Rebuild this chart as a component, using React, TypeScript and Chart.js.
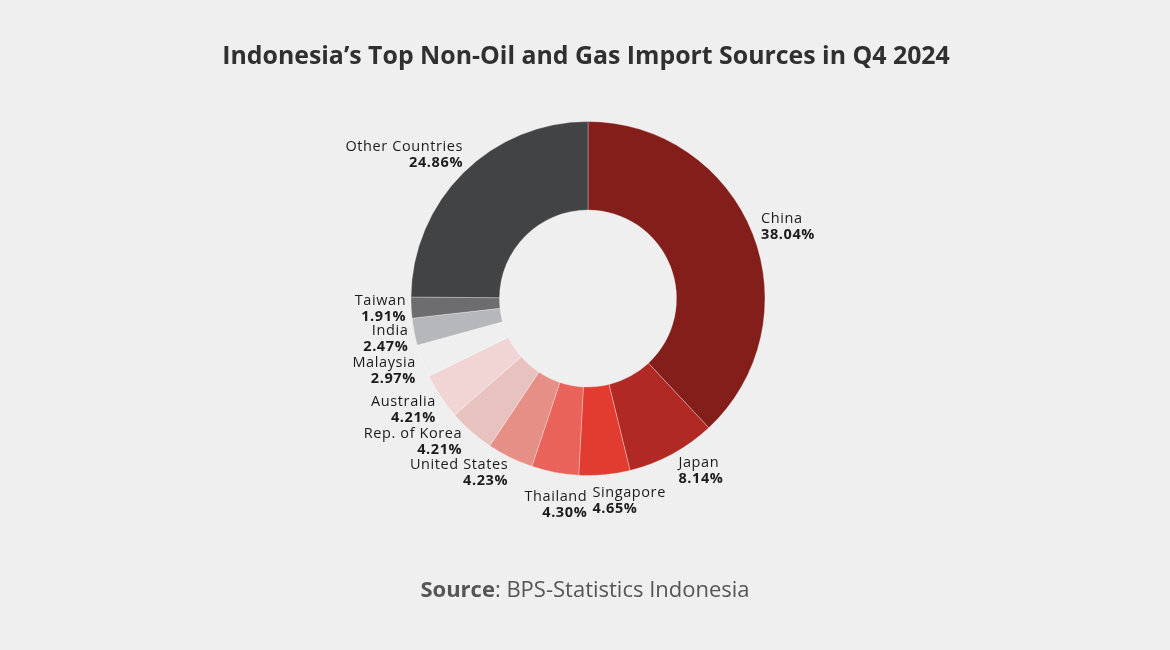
import React, { useEffect, useRef } from 'react';
import { Chart, registerables } from 'chart.js';

Chart.register(...registerables);

const TITLE = 'Indonesia’s Top Non-Oil and Gas Import Sources in Q4 2024';
const SOURCE_BOLD = 'Source';
const SOURCE_REST = ': BPS-Statistics Indonesia';

const countries = [
  'China',
  'Japan',
  'Singapore',
  'Thailand',
  'United States',
  'Rep. of Korea',
  'Australia',
  'Malaysia',
  'India',
  'Taiwan',
  'Other Countries',
];
const shares = [38.04, 8.14, 4.65, 4.3, 4.23, 4.21, 4.21, 2.97, 2.47, 1.91, 24.86];
const shareLabels = ['38.04%', '8.14%', '4.65%', '4.30%', '4.23%', '4.21%', '4.21%', '2.97%', '2.47%', '1.91%', '24.86%'];

const BG = '#efefef';
const sliceColors = [
  '#841e1b',
  '#b02925',
  '#e23b30',
  '#ea635a',
  '#e58f86',
  '#e8c2bf',
  '#f1d5d5',
  '#efefef',
  '#b5b7ba',
  '#6d6d70',
  '#424345',
];

// small per-label nudges (px) for readability, mirroring the reference layout
const labelNudge: Record<string, [number, number]> = {
  China: [0, 0],
  Japan: [2, 0],
  Singapore: [-13, 7],
  Thailand: [34, 14],
  'United States': [2, -2],
  'Rep. of Korea': [-3, -4],
  Australia: [3, 3],
  Malaysia: [2, 3],
  India: [3, 4],
  Taiwan: [4, 0],
  'Other Countries': [6, -4],
};

const FONT = '"Open Sans", "Noto Sans", sans-serif';

const textPlugin = {
  id: 'textOverlay',
  afterDatasetsDraw(chart: any) {
    const ctx: any = chart.ctx;
    const meta = chart.getDatasetMeta(0);
    ctx.save();
    // slice labels
    ctx.letterSpacing = '0.6px';
    meta.data.forEach((arc: any, i: number) => {
      const p = arc.getProps(['x', 'y', 'startAngle', 'endAngle', 'outerRadius'], true);
      const mid = (p.startAngle + p.endAngle) / 2;
      const r = p.outerRadius + 9;
      const c = Math.cos(mid);
      const s = Math.sin(mid);
      const nudge = labelNudge[countries[i]] || [0, 0];
      const ax = p.x + r * c + nudge[0];
      const ay = p.y + r * s + 10 * s + nudge[1];
      ctx.textAlign = c >= 0 ? 'left' : 'right';
      ctx.textBaseline = 'middle';
      ctx.fillStyle = '#1c1c1c';
      ctx.font = `400 14.5px ${FONT}`;
      ctx.fillText(countries[i], ax, ay - 8);
      ctx.font = `700 14.5px ${FONT}`;
      ctx.fillText(shareLabels[i], ax, ay + 8);
    });
    ctx.letterSpacing = '0px';

    // title, fitted to the reference width
    let ts = 22;
    ctx.font = `700 ${ts}px ${FONT}`;
    const tw = ctx.measureText(TITLE).width;
    ts = Math.min(26, ts * (728 / tw));
    ctx.font = `700 ${ts}px ${FONT}`;
    ctx.fillStyle = '#303030';
    ctx.textAlign = 'center';
    ctx.textBaseline = 'middle';
    ctx.fillText(TITLE, 586, 57);

    // source line
    let ss = 20;
    ctx.font = `700 ${ss}px ${FONT}`;
    let wb = ctx.measureText(SOURCE_BOLD).width;
    ctx.font = `400 ${ss}px ${FONT}`;
    let wr = ctx.measureText(SOURCE_REST).width;
    ss = Math.min(22, ss * (338 / (wb + wr)));
    ctx.font = `700 ${ss}px ${FONT}`;
    wb = ctx.measureText(SOURCE_BOLD).width;
    ctx.font = `400 ${ss}px ${FONT}`;
    wr = ctx.measureText(SOURCE_REST).width;
    const sx = 585 - (wb + wr) / 2;
    ctx.textAlign = 'left';
    ctx.fillStyle = '#555555';
    ctx.font = `700 ${ss}px ${FONT}`;
    ctx.fillText(SOURCE_BOLD, sx, 591);
    ctx.font = `400 ${ss}px ${FONT}`;
    ctx.fillText(SOURCE_REST, sx + wb, 591);
    ctx.restore();
  },
};

export default function App() {
  const ref = useRef<HTMLCanvasElement | null>(null);

  useEffect(() => {
    if (!ref.current) return;
    const chart = new Chart(ref.current, {
      type: 'doughnut',
      data: {
        labels: countries,
        datasets: [
          {
            data: shares,
            backgroundColor: sliceColors,
            borderColor: 'rgba(255,255,255,0.3)',
            borderWidth: 1,
            hoverOffset: 0,
            offset: 0,
          },
        ],
      },
      options: {
        responsive: false,
        animation: false,
        cutout: '50%',
        layout: { padding: { top: 121, bottom: 174, left: 6, right: 0 } },
        plugins: {
          legend: { display: false },
          tooltip: { enabled: false },
          title: { display: false },
        },
      },
      plugins: [textPlugin],
    });
    return () => chart.destroy();
  }, []);

  return (
    <div
      style={{
        position: 'fixed',
        left: 0,
        top: 0,
        width: 1170,
        height: 650,
        background: BG,
      }}
    >
      <canvas ref={ref} width={1170} height={650} style={{ display: 'block' }} />
    </div>
  );
}
